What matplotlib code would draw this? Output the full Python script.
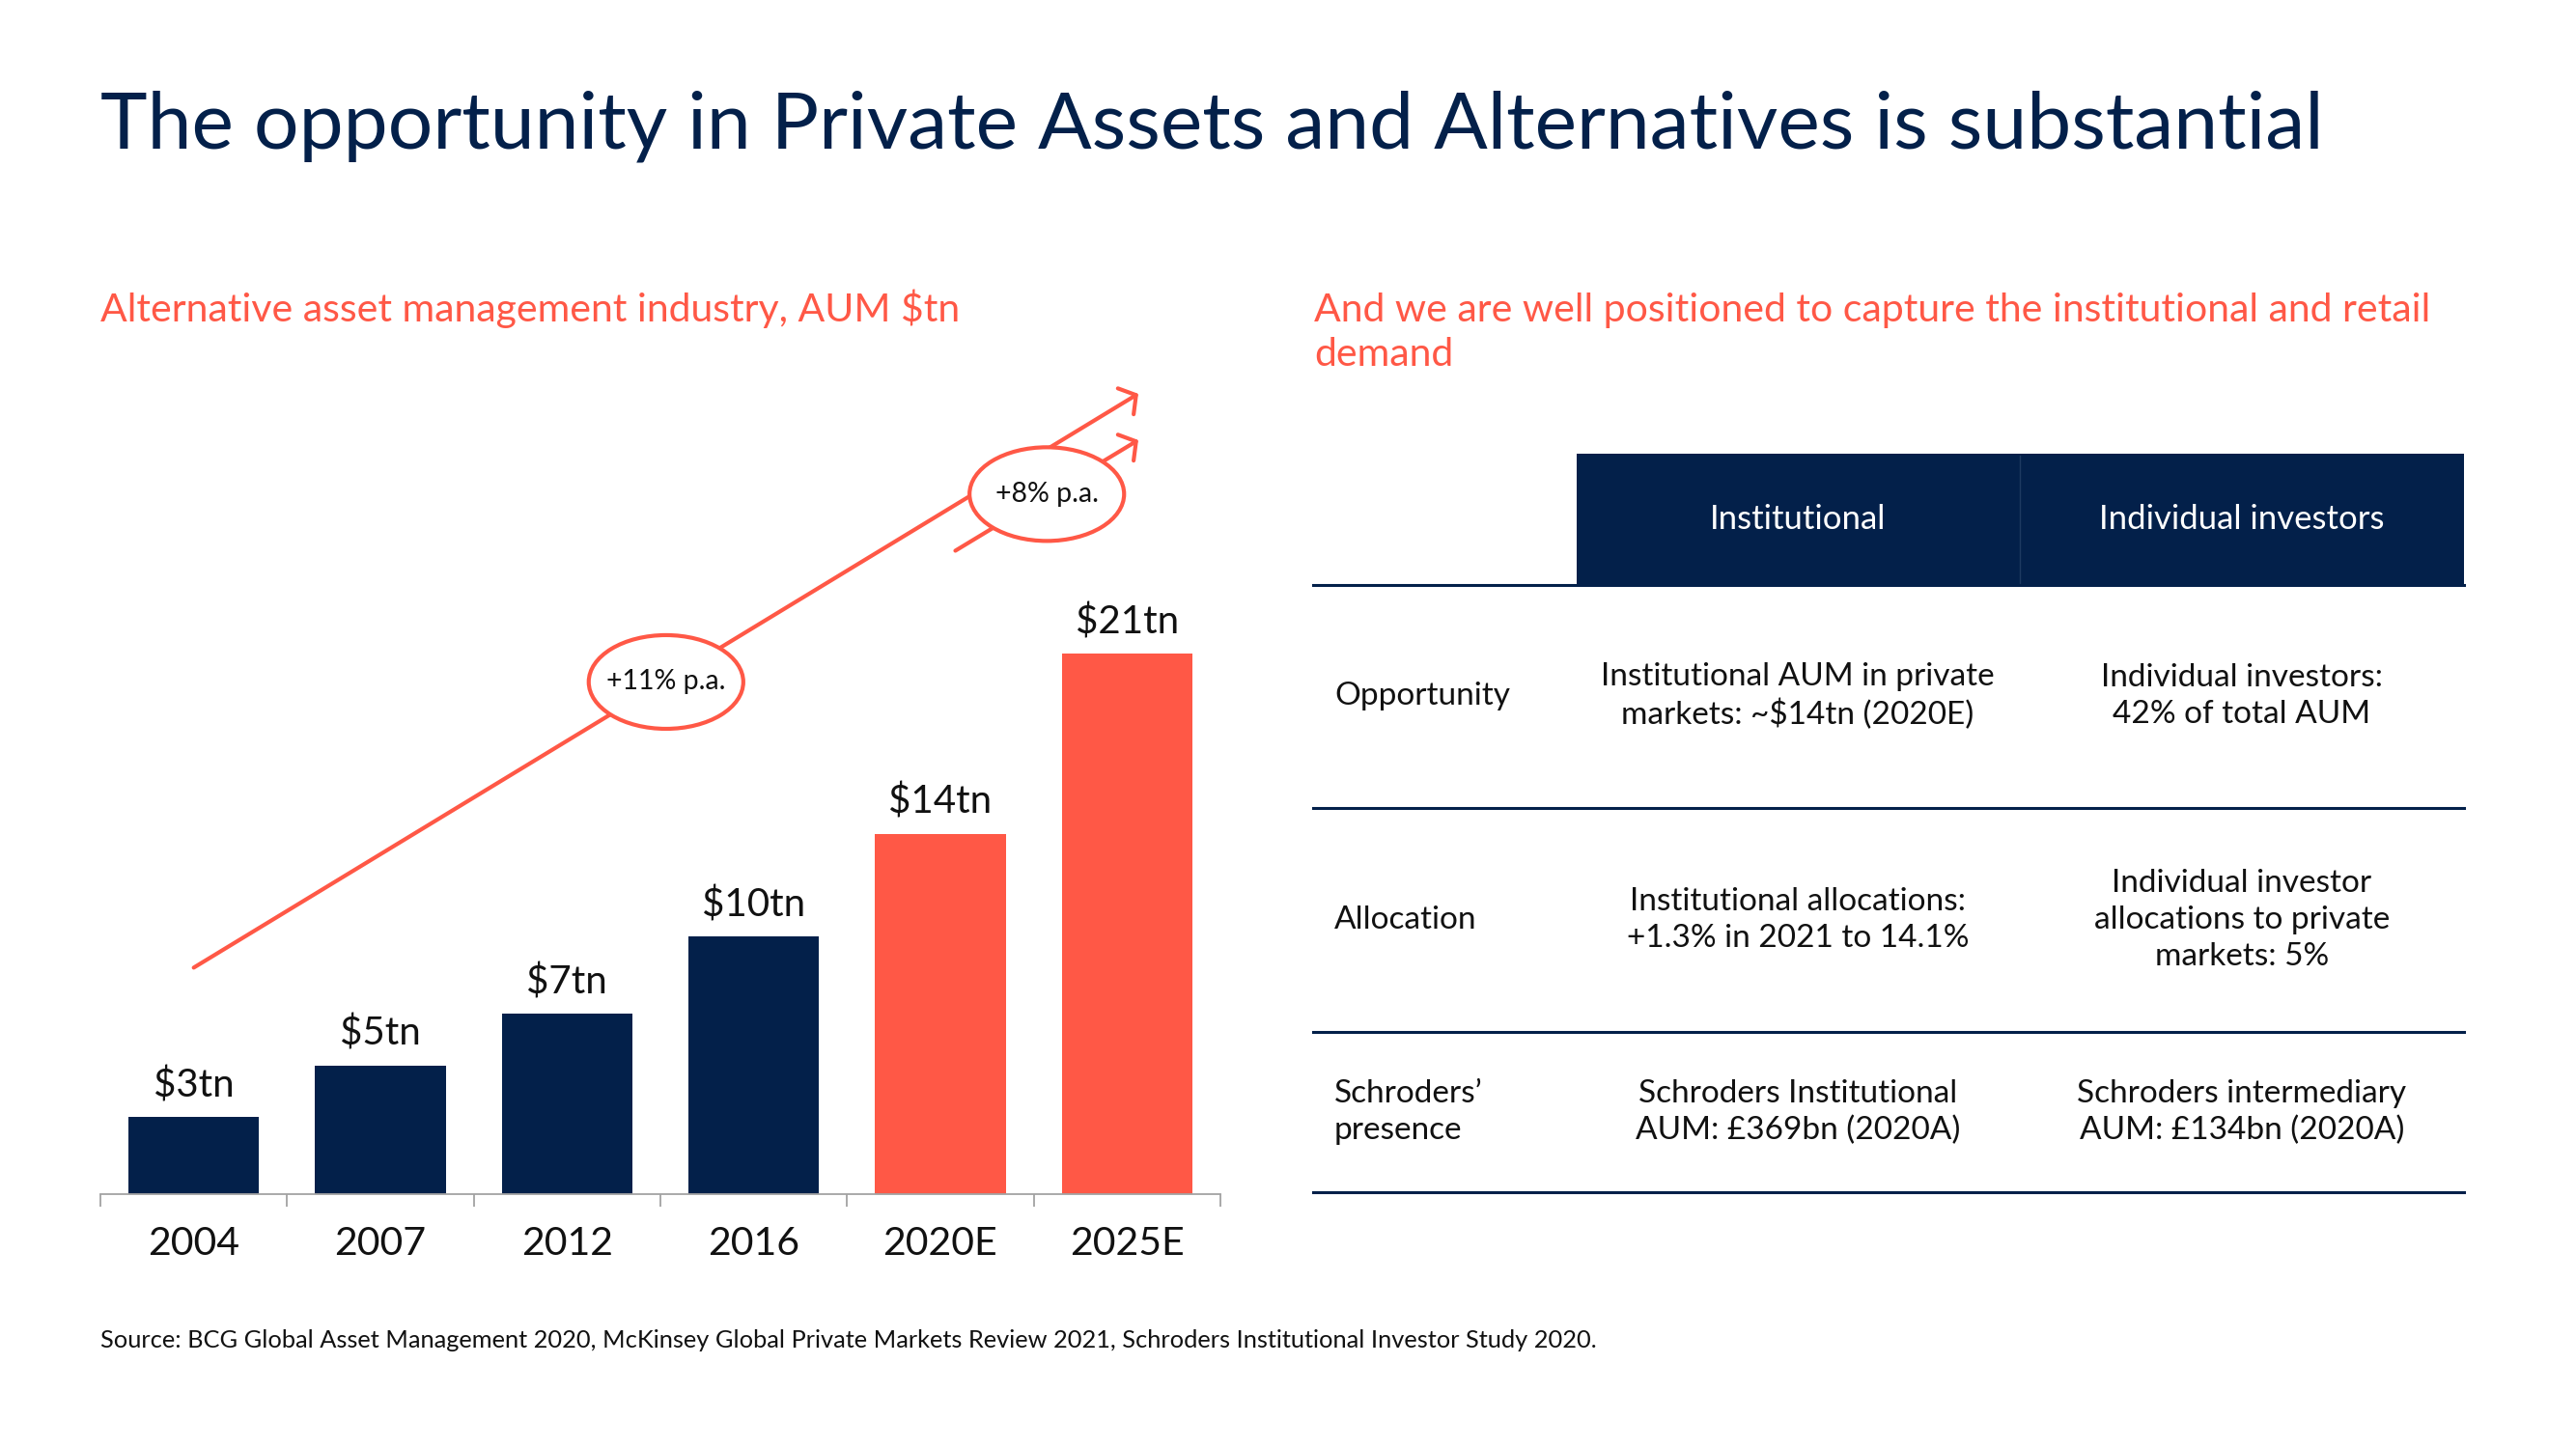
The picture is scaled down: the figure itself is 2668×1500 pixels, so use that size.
import matplotlib
matplotlib.use("Agg")
import matplotlib.pyplot as plt
from matplotlib.patches import Ellipse, Rectangle

# ---- data ----
years = ["2004", "2007", "2012", "2016", "2020E", "2025E"]
aum_tn = [3, 5, 7, 10, 14, 21]
is_estimate = [False, False, False, False, True, True]
value_labels = ["$3tn", "$5tn", "$7tn", "$10tn", "$14tn", "$21tn"]
growth_labels = ["+11% p.a.", "+8% p.a."]

table_columns = ["Institutional", "Individual investors"]
table_rows = ["Opportunity", "Allocation", "Schroders’\npresence"]
table_institutional = [
    "Institutional AUM in private\nmarkets: ~$14tn (2020E)",
    "Institutional allocations:\n+1.3% in 2021 to 14.1%",
    "Schroders Institutional\nAUM: £369bn (2020A)",
]
table_individual = [
    "Individual investors:\n42% of total AUM",
    "Individual investor\nallocations to private\nmarkets: 5%",
    "Schroders intermediary\nAUM: £134bn (2020A)",
]

title = "The opportunity in Private Assets and Alternatives is substantial"
left_sub = "Alternative asset management industry, AUM $tn"
right_sub = ["And we are well positioned to capture the institutional and retail", "demand"]
source = ("Source: BCG Global Asset Management 2020, McKinsey Global Private Markets Review 2021, "
          "Schroders Institutional Investor Study 2020.")

NAVY = "#03204A"
CORAL = "#FF5846"
TXT = "#111111"
GREY = "#A3A3A3"
W, H = 2668, 1500

plt.rcParams["font.family"] = ["Lato", "DejaVu Sans"]

fig = plt.figure(figsize=(W / 100, H / 100), dpi=100)

# background axes in pixel units for the slide layout
bg = fig.add_axes([0, 0, 1, 1])
bg.set_xlim(0, W)
bg.set_ylim(H, 0)
bg.axis("off")

bg.text(104, 154, title, fontsize=59.2, color=NAVY, va="baseline")
bg.text(104, 333, left_sub, fontsize=29.5, color=CORAL, va="baseline")
bg.text(1361, 333, right_sub[0], fontsize=29.5, color=CORAL, va="baseline")
bg.text(1361, 379, right_sub[1], fontsize=29.5, color=CORAL, va="baseline")
bg.text(104, 1389, source, fontsize=18.3, color=TXT, va="center")

# ---- table ----
col_x = [1862, 2322]
row_y = [721, 953, 1152]
bg.add_patch(Rectangle((1633, 470), 919, 136, fc=NAVY, ec="none"))
bg.plot([2092, 2092], [472, 604], color="#1E3A60", lw=1)
for cx, name in zip(col_x, table_columns):
    bg.text(cx, 538, name, fontsize=25, color="white", ha="center", va="center")
for y in [606, 837, 1069, 1235]:
    bg.plot([1360, 2552], [y, y], color=NAVY, lw=2.2)
for ry, lab, c1, c2 in zip(row_y, table_rows, table_institutional, table_individual):
    bg.text(1382, ry, lab, fontsize=24, color=TXT, ha="left", va="center", linespacing=1.32)
    bg.text(col_x[0], ry, c1, fontsize=24, color=TXT, ha="center", va="center", linespacing=1.32)
    bg.text(col_x[1], ry, c2, fontsize=24, color=TXT, ha="center", va="center", linespacing=1.32)

# ---- bar chart ----
ymax = 33
ax = fig.add_axes([104 / W, (H - 1237) / H, 1160 / W, ymax * 26.66 / H])
ax.patch.set_alpha(0)
x = list(range(len(years)))
colors = [CORAL if e else NAVY for e in is_estimate]
bars = ax.bar(x, aum_tn, width=0.7, color=colors, zorder=2)
for rect, lab in zip(bars, value_labels):
    ax.annotate(lab, (rect.get_x() + rect.get_width() / 2, rect.get_height()),
                xytext=(0, 10), textcoords="offset points",
                ha="center", va="bottom", fontsize=29, color=TXT)

ax.set_xlim(-0.5, len(years) - 0.5)
ax.set_ylim(0, ymax)
ax.set_xticks(x)
ax.set_xticklabels(years, fontsize=29.5, color=TXT)
ax.set_xticks([i - 0.5 for i in range(len(years) + 1)], minor=True)
ax.tick_params(axis="x", which="major", length=0, pad=24)
ax.tick_params(axis="x", which="minor", length=9, width=1.3, color=GREY)
ax.set_yticks([])
for s in ["top", "left", "right"]:
    ax.spines[s].set_visible(False)
ax.spines["bottom"].set_color(GREY)
ax.spines["bottom"].set_linewidth(1.3)

# growth arrows
head = "->,head_length=0.9,head_width=1.13"
ax.annotate("", xy=(5.06, 31.1), xytext=(0.0, 8.8),
            arrowprops=dict(arrowstyle=head, color=CORAL, lw=3, mutation_scale=10,
                            shrinkA=0, shrinkB=0), zorder=3, annotation_clip=False)
ax.annotate("", xy=(5.06, 29.3), xytext=(4.08, 25.0),
            arrowprops=dict(arrowstyle=head, color=CORAL, lw=3, mutation_scale=10,
                            shrinkA=0, shrinkB=0), zorder=3, annotation_clip=False)

for (ex, ey), lab in zip([(2.53, 19.9), (4.57, 27.2)], growth_labels):
    ax.add_patch(Ellipse((ex, ey), 0.828, 3.64, fc="white", ec=CORAL, lw=3, zorder=4))
    ax.text(ex, ey, lab, fontsize=20.5, color=TXT, ha="center", va="center", zorder=5)

fig.savefig("out.png", dpi=100)
